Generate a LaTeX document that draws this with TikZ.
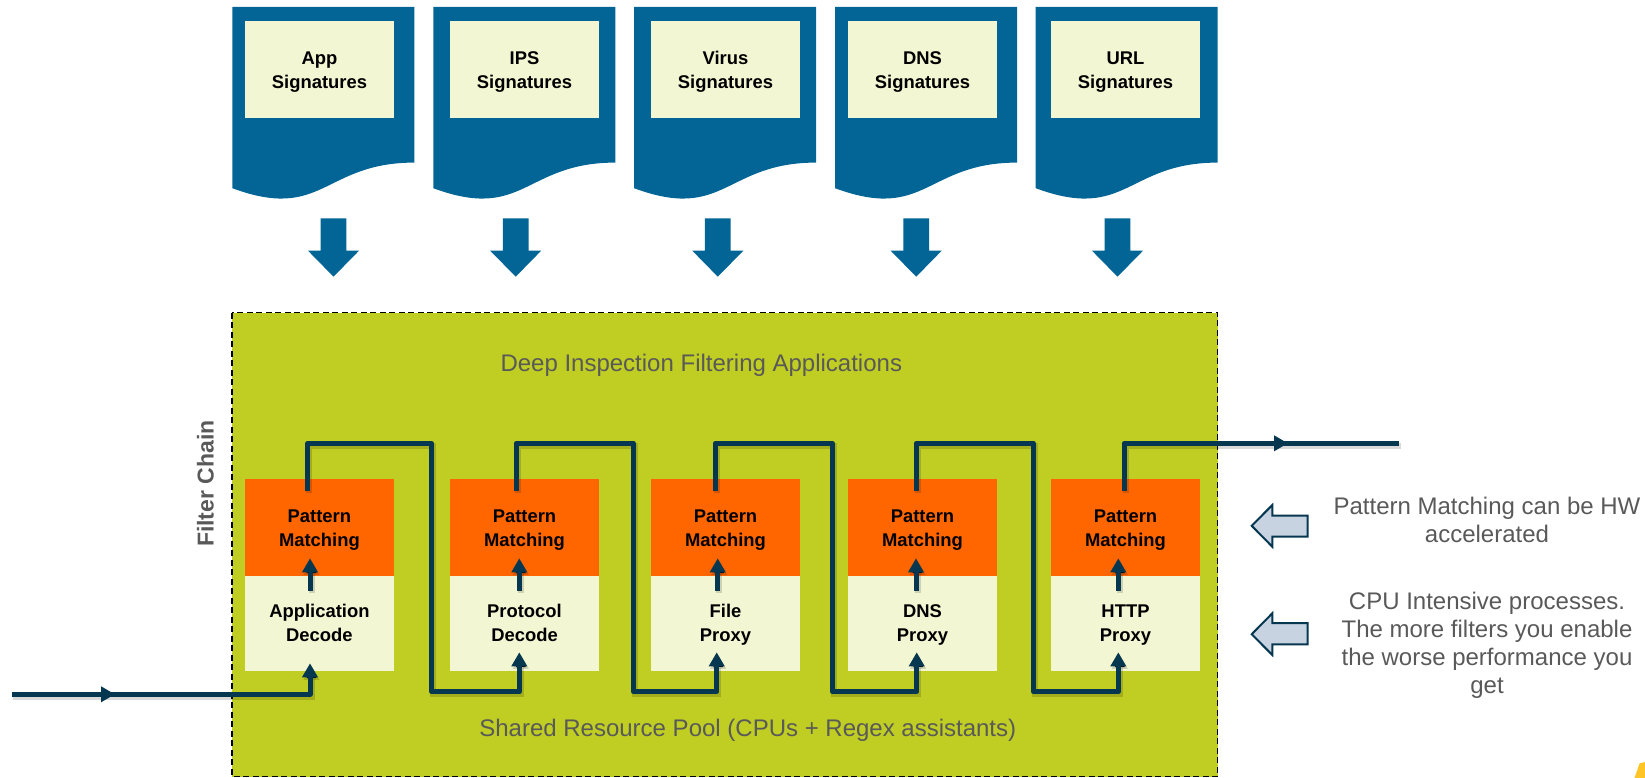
\documentclass[tikz,border=0pt]{standalone}
\usepackage{fontspec}
\setmainfont{Liberation Sans}
\usetikzlibrary{arrows.meta,decorations.markings}
\definecolor{docblue}{RGB}{2,101,150}
\definecolor{cream}{RGB}{243,246,210}
\definecolor{limeg}{RGB}{192,205,34}
\definecolor{orng}{RGB}{255,102,0}
\definecolor{navy}{RGB}{6,55,80}
\definecolor{grayt}{RGB}{89,89,89}
\definecolor{hollow}{RGB}{200,211,226}
\definecolor{yel}{RGB}{255,196,37}
\newcommand{\twolines}[3]{\raisebox{#1}[\height][\depth]{\begin{tabular}{@{}c@{}}#2\\#3\end{tabular}}}
\begin{document}
\begin{tikzpicture}[x=1pt,y=-1pt,
  sigbox/.style={fill=cream, minimum width=149pt, minimum height=97pt, inner sep=0pt, font=\fontsize{18.4}{23.5}\selectfont\bfseries},
  pmbox/.style={sigbox, fill=orng, minimum height=97pt},
  decbox/.style={sigbox, fill=cream, minimum height=95.5pt},
  flow/.style={draw=navy, line width=5pt, line join=round,
    preaction={draw=black, draw opacity=0.15, line width=6pt, transform canvas={shift={(1.5pt,-2.5pt)}}}},
  tipend/.style={-{Triangle[length=14pt,width=15pt]}},
  midtip/.style={postaction={decorate, decoration={markings, mark=at position #1 with {\arrow{Triangle[length=14pt,width=15pt]}}}}},
  note/.style={text=grayt, align=center, inner sep=0pt, font=\fontsize{24}{28}\selectfont},
  hollowarrow/.style={draw=navy, line width=2pt, fill=hollow, line join=miter}
]
\useasboundingbox (0,0) rectangle (1645,778);

% signature documents
\foreach \L in {232.3,433.3,634,835,1035.7} {
  \fill[docblue] (\L,7) -- (\L+182,7) -- (\L+182,162.6) .. controls (\L+91,162.6) and (\L+91,221.9) .. (\L,188.2) -- cycle;
}
\node[sigbox] (s1) at (319.5,69.3) {\twolines{-2.5pt}{App}{Signatures}};
\node[sigbox] (s2) at (524.5,69.3) {\twolines{-2.5pt}{IPS}{Signatures}};
\node[sigbox] (s3) at (725.5,69.3) {\twolines{-2.5pt}{Virus}{Signatures}};
\node[sigbox] (s4) at (922.5,69.3) {\twolines{-2.5pt}{DNS}{Signatures}};
\node[sigbox] (s5) at (1125.5,69.3) {\twolines{-2.5pt}{URL}{Signatures}};

% block arrows down
\foreach \c in {333.5,515.7,717.8,916.2,1117.5} {
  \fill[docblue] (\c-12.9,218.3) -- (\c+12.9,218.3) -- (\c+12.9,250.7) -- (\c+25.5,250.7) -- (\c,276.7) -- (\c-25.5,250.7) -- (\c-12.9,250.7) -- cycle;
}

% shared pool area
\draw[fill=limeg, line width=1.5pt, dash pattern=on 6pt off 3.5pt] (232,312.7) rectangle (1217.5,776.7);
\node[text=grayt, font=\fontsize{24}{28}\selectfont, anchor=base] (title) at (701.3,371) {Deep Inspection Filtering Applications};
\node[text=grayt, font=\fontsize{24}{28}\selectfont, anchor=base] (pool) at (747.8,736.7) {Shared Resource Pool (CPUs + Regex assistants)};
\node[text=grayt, font=\fontsize{23}{27}\selectfont\bfseries, rotate=90] (fc) at (205.5,483.6) {Filter Chain};

% stages
\node[pmbox] (pm1) at (319.4,527) {\twolines{-3pt}{Pattern}{Matching}};
\node[pmbox] (pm2) at (524.5,527) {\twolines{-3pt}{Pattern}{Matching}};
\node[pmbox] (pm3) at (725.5,527) {\twolines{-3pt}{Pattern}{Matching}};
\node[pmbox] (pm4) at (922.5,527) {\twolines{-3pt}{Pattern}{Matching}};
\node[pmbox] (pm5) at (1125.5,527) {\twolines{-3pt}{Pattern}{Matching}};
\node[decbox] (d1) at (319.4,623.25) {\twolines{-1.5pt}{Application}{Decode}};
\node[decbox] (d2) at (524.5,623.25) {\twolines{-1.5pt}{Protocol}{Decode}};
\node[decbox] (d3) at (725.5,623.25) {\twolines{-1.5pt}{File}{Proxy}};
\node[decbox] (d4) at (922.5,623.25) {\twolines{-1.5pt}{DNS}{Proxy}};
\node[decbox] (d5) at (1125.5,623.25) {\twolines{-1.5pt}{HTTP}{Proxy}};

% connector points
\coordinate (in0) at (11.7,694.3);
\coordinate (en1) at (310,663.3);
\coordinate (en2) at (519.3,652.3);
\coordinate (en3) at (716.7,652.3);
\coordinate (en4) at (916.7,652.3);
\coordinate (en5) at (1118.3,652.3);
\coordinate (ex1) at (307.7,490.7);
\coordinate (ex2) at (516,490.7);
\coordinate (ex3) at (715,490.7);
\coordinate (ex4) at (916,490.7);
\coordinate (ex5) at (1124,490.7);
\coordinate (out) at (1399.3,443.3);
\foreach \i/\x in {1/310,2/519.3,3/717.7,4/916,5/1118.3} {
  \coordinate (ia\i) at (\x,590.7);
  \coordinate (ib\i) at (\x,558.3);
}

% flow
\draw[flow, tipend, midtip=103.3pt] (in0) -| (en1);
\draw[flow, tipend] (ex1) -- (307.7,443.3) -- (431.7,443.3) -- (431.7,691.7) -| (en2);
\draw[flow, tipend] (ex2) -- (516,443.3) -- (633.3,443.3) -- (633.3,691.7) -| (en3);
\draw[flow, tipend] (ex3) -- (715,443.3) -- (832.3,443.3) -- (832.3,691.7) -| (en4);
\draw[flow, tipend] (ex4) -- (916,443.3) -- (1033.3,443.3) -- (1033.3,691.7) -| (en5);
\draw[flow, midtip=211.4pt] (ex5) |- (out);
\foreach \i in {1,...,5} {
  \draw[flow, tipend] (ia\i) -- (ib\i);
}

% hollow arrows and notes
\draw[hollowarrow] (1307.7,515.7) -- (1272.3,515.7) -- (1272.3,505) -- (1251.7,525.8) -- (1272.3,546.7) -- (1272.3,536.7) -- (1307.7,536.7) -- cycle;
\draw[hollowarrow] (1307.7,623.2) -- (1272.3,623.2) -- (1272.3,613.3) -- (1251.7,634.2) -- (1272.3,655) -- (1272.3,644.3) -- (1307.7,644.3) -- cycle;
\node[note, anchor=north] (n1) at (1487,496.5) {Pattern Matching can be HW\\accelerated};
\node[note, anchor=north] (n2) at (1487,591.5) {CPU Intensive processes.\\The more filters you enable\\the worse performance you\\get};

% corner mark
\fill[yel] (1639.5,763.5) -- (1645,762) -- (1645,778) -- (1634.5,778) -- cycle;
\end{tikzpicture}
\end{document}
